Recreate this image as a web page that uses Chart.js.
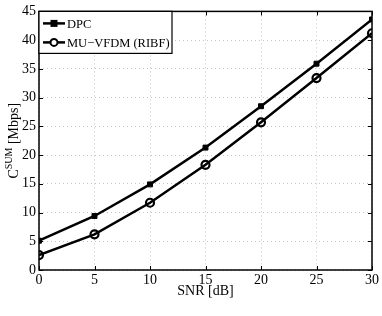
<!DOCTYPE html>
<html>
<head>
<meta charset="utf-8">
<script src="https://cdn.jsdelivr.net/npm/chart.js@4"></script>
<style>
  html, body { margin: 0; padding: 0; background: #fff; }
  #wrap { position: relative; width: 382px; height: 316px; }
</style>
</head>
<body>
<div id="wrap"><canvas id="c" width="382" height="316"></canvas></div>
<script>
// SNR axis values and the two capacity curves
const snr = [0, 5, 10, 15, 20, 25, 30];
const dpc = [5.1, 9.4, 14.9, 21.3, 28.5, 35.9, 43.6];
const muVfdm = [2.6, 6.2, 11.7, 18.3, 25.7, 33.4, 41.2];
const seriesNames = ['DPC', 'MU\u2212VFDM (RIBF)'];

const FONT = '"Liberation Serif", "Times New Roman", serif';

// box, inward ticks, y title with superscript, legend
const matlabFrame = {
  id: 'matlabFrame',
  afterDraw(chart) {
    const { ctx, chartArea: a, scales } = chart;
    ctx.save();
    ctx.strokeStyle = '#000';
    ctx.lineWidth = 1;
    ctx.beginPath();
    scales.x.ticks.forEach(t => {
      const px = Math.round(scales.x.getPixelForValue(t.value)) + 0.5;
      ctx.moveTo(px, a.bottom); ctx.lineTo(px, a.bottom - 4);
      ctx.moveTo(px, a.top); ctx.lineTo(px, a.top + 4);
    });
    scales.y.ticks.forEach(t => {
      const py = Math.round(scales.y.getPixelForValue(t.value)) + 0.5;
      ctx.moveTo(a.left, py); ctx.lineTo(a.left + 4, py);
      ctx.moveTo(a.right, py); ctx.lineTo(a.right - 4, py);
    });
    ctx.stroke();
    ctx.lineWidth = 1.5;
    ctx.strokeRect(a.left, a.top, a.right - a.left, a.bottom - a.top);

    // y axis title: C^SUM [Mbps]
    ctx.translate(14, (a.top + a.bottom) / 2);
    ctx.rotate(-Math.PI / 2);
    ctx.fillStyle = '#000';
    ctx.textBaseline = 'middle';
    const big = '14px ' + FONT, small = '10px ' + FONT;
    ctx.font = big; const wC = ctx.measureText('C').width;
    ctx.font = small; const wS = ctx.measureText('SUM').width;
    ctx.font = big; const wM = ctx.measureText(' [Mbps]').width;
    let x0 = -(wC + wS + wM) / 2;
    ctx.textAlign = 'left';
    ctx.fillText('C', x0, 0);
    ctx.font = small; ctx.fillText('SUM', x0 + wC, -5);
    ctx.font = big; ctx.fillText(' [Mbps]', x0 + wC + wS, 0);
    ctx.restore();

    // legend
    ctx.save();
    const lx = a.left, ly = a.top, lw = 133, lh = 42;
    ctx.fillStyle = '#fff';
    ctx.fillRect(lx, ly, lw, lh);
    ctx.strokeStyle = '#000';
    ctx.lineWidth = 1.2;
    ctx.strokeRect(lx, ly, lw, lh);
    ctx.font = '12.5px ' + FONT;
    ctx.textBaseline = 'middle';
    ctx.fillStyle = '#000';
    [ly + 12, ly + 31].forEach((yy, i) => {
      ctx.lineWidth = 2.5;
      ctx.beginPath(); ctx.moveTo(lx + 4, yy); ctx.lineTo(lx + 26, yy); ctx.stroke();
      const mx = lx + 15;
      if (i === 0) {
        ctx.fillRect(mx - 3.5, yy - 3.5, 7, 7);
      } else {
        ctx.lineWidth = 2;
        ctx.fillStyle = '#fff';
        ctx.beginPath(); ctx.arc(mx, yy, 3.5, 0, Math.PI * 2); ctx.fill(); ctx.stroke();
        ctx.fillStyle = '#000';
      }
      ctx.fillText(seriesNames[i], lx + 28, yy + 1);
    });
    ctx.restore();
  }
};

new Chart(document.getElementById('c'), {
  type: 'line',
  data: {
    labels: snr,
    datasets: [
      {
        label: seriesNames[0],
        data: snr.map((s, i) => ({ x: s, y: dpc[i] })),
        borderColor: '#000', borderWidth: 2.5,
        pointStyle: 'rect', pointRadius: 3.5,
        pointBackgroundColor: '#000', pointBorderColor: '#000', pointBorderWidth: 1
      },
      {
        label: seriesNames[1],
        data: snr.map((s, i) => ({ x: s, y: muVfdm[i] })),
        borderColor: '#000', borderWidth: 2.5,
        pointStyle: 'circle', pointRadius: 4,
        pointBackgroundColor: 'rgba(255,255,255,0)', pointBorderColor: '#000', pointBorderWidth: 2.2
      }
    ]
  },
  options: {
    responsive: false,
    animation: false,
    layout: { padding: { left: 0, right: 10, top: 10, bottom: 0 } },
    plugins: { legend: { display: false }, tooltip: { enabled: false } },
    scales: {
      x: {
        type: 'linear', min: 0, max: 30,
        ticks: { stepSize: 5, color: '#000', font: { family: FONT, size: 14 }, padding: 2, maxRotation: 0 },
        grid: { color: '#c4c4c4', drawTicks: false, tickLength: 0 },
        border: { display: false, dash: [1, 3] },
        title: { display: true, text: 'SNR [dB]', color: '#000', font: { family: FONT, size: 14 }, padding: { top: 0, bottom: 16 } },
        afterFit(s) { s.height = 46; }
      },
      y: {
        min: 0, max: 45,
        ticks: { stepSize: 5, color: '#000', font: { family: FONT, size: 14 }, padding: 3 },
        grid: { color: '#c4c4c4', drawTicks: false, tickLength: 0 },
        border: { display: false, dash: [1, 3] },
        afterFit(s) { s.width = 39; }
      }
    }
  },
  plugins: [matlabFrame]
});
</script>
</body>
</html>
